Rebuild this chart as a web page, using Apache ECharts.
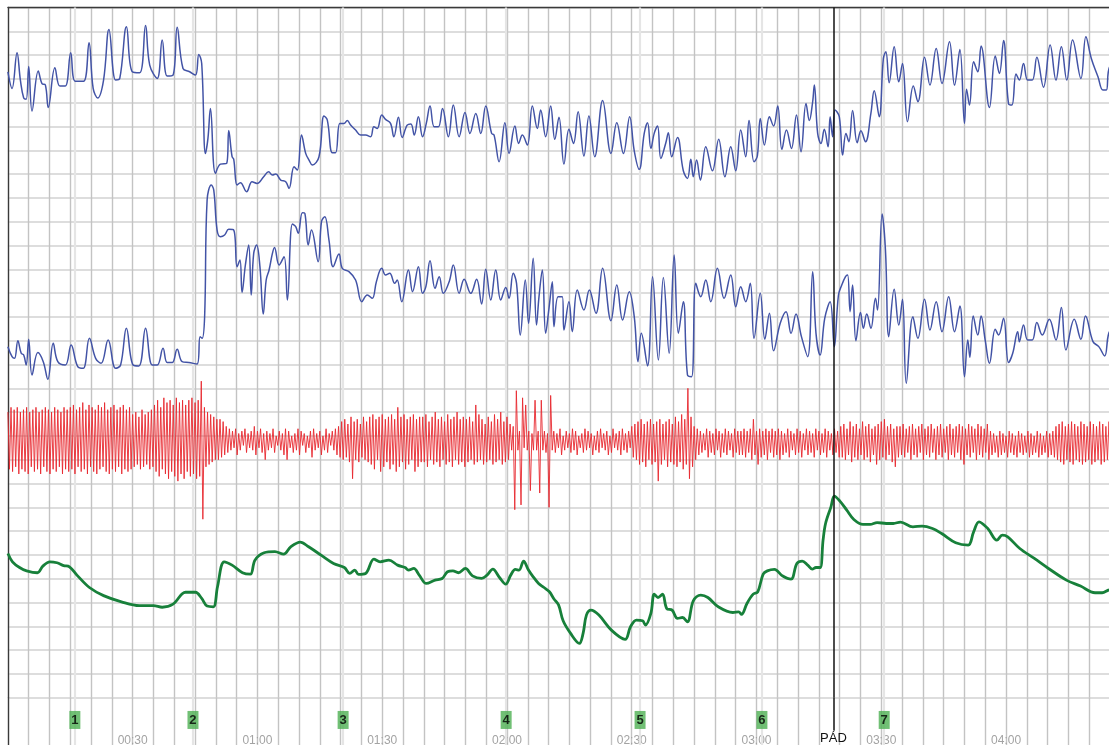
<!DOCTYPE html>
<html><head><meta charset="utf-8">
<script src="https://cdn.jsdelivr.net/npm/echarts@6/dist/echarts.min.js"></script>
<style>html,body{margin:0;padding:0;background:#fff;overflow:hidden}#chart{width:1109px;height:745px}</style>
</head><body><div id="chart"></div><script>
// ---- data (time in seconds, channel values in chart-division units *10) ----
const timeLabels = ['00:30','01:00','01:30','02:00','02:30','03:00','03:30','04:00','04:30'];
const markerTimes = [16.1, 44.5, 80.6, 119.8, 152, 181.3, 210.7];
const markerLabels = ['1','2','3','4','5','6','7'];
const padTime = 198.5;
const padLabel = 'PÁD';

const upperBreath = [[0,27],[1,34],[2.2,19],[3,30.5],[3.8,38],[4.4,38.5],[5,24.8],[5.8,43.5],[7.3,26.7],[8.2,32],[9,32.5],[9.7,42],[11.3,25.3],[12.5,33],[13.8,33],[15.1,19],[16.2,31],[18.2,31],[19.5,14.8],[20.5,34],[21.6,38],[23,30.5],[24.3,9.2],[25.9,30.5],[26.9,29.8],[28.5,8.1],[29.9,27],[31.7,27.4],[33.1,7.6],[34.1,24.2],[35.9,29.8],[37.1,13.7],[38.3,28.8],[39.7,28.4],[40.7,8.3],[42.1,25.6],[43.7,27],[45.1,28.4],[45.9,19.7],[46.6,23.5],[47.5,61.3],[48.1,55],[48.7,42.4],[49.9,69.7],[51.1,65.8],[52.6,65.5],[53.1,51.7],[53.9,62.7],[54.3,63.8],[55.1,74.6],[55.9,73.6],[57.4,77.4],[58.7,73.2],[59.9,73.9],[61.5,71.1],[62.7,69],[63.6,70.4],[64.4,70],[65.6,72.5],[66.8,73.2],[67.6,76],[68.8,66.9],[69.6,68.3],[70.6,53.6],[71.6,61.3],[72.4,64.1],[73.2,66.2],[74.8,62.7],[76,45.6],[76.8,47.3],[78,61],[78.8,61],[79.8,48.7],[80.8,48.7],[81.6,47.5],[82.4,49.4],[83.6,51.5],[84.8,53.6],[86,53.6],[87.2,54.3],[88,50.1],[88.8,50.8],[89.9,45.2],[90.8,47],[92,48.7],[92.8,54.3],[93.9,46.1],[94.8,54.6],[96,49.4],[96.9,48.9],[97.7,53.6],[98.7,45.9],[99.7,54.3],[100.6,48.7],[101.5,41.4],[102.5,50.1],[103.5,50.1],[104.5,42.4],[105.9,54.3],[107.1,41],[108.5,54.3],[109.9,44.1],[111.1,52.9],[112.5,44.5],[113.7,52.9],[114.9,41.4],[116.3,52.9],[116.9,53.6],[118.1,64.8],[119.5,48.4],[120.5,61.3],[121.9,49.8],[122.8,57.1],[123.7,53.6],[124.9,57.8],[126.1,41.4],[127.3,50.8],[128.1,43.1],[129.3,54.3],[130.5,41.4],[131.5,55.4],[132.5,46.1],[133.7,65.8],[134.9,51.2],[136,57.1],[137.1,43.8],[138.5,62.4],[139.7,45.6],[141.1,62.7],[143,39.1],[145,61.3],[146.4,48.4],[148,61.3],[149.5,45.9],[150.6,60.2],[151.8,68],[153,52.9],[153.8,48.4],[154.6,59.2],[155.4,52.9],[156.2,49.8],[157,63.4],[158.2,56.8],[158.8,52.6],[159.6,62.7],[161,54.6],[162.4,68.6],[163.4,71.8],[164.2,63.8],[164.8,71.1],[165.6,64.1],[166.5,72.5],[167.8,58.5],[169.4,68.6],[170.9,55.4],[172.4,71.1],[173.8,58.5],[175,68.6],[176.2,51.5],[177.4,62.7],[178.2,47.5],[179.4,64.8],[180.2,62.4],[180.9,46.6],[181.9,57.8],[183.1,45.9],[184.1,49.8],[185.1,41.4],[186.1,59.6],[187.2,51.5],[188.4,59.2],[189.6,45.2],[190.7,60.6],[191.9,40.3],[192.7,47.5],[193.5,39.6],[193.9,32.6],[194.7,52.9],[195.5,57.1],[196.3,51.2],[197.2,58.5],[197.7,45.9],[198.3,54.3],[198.9,43.1],[199.9,45.9],[200.7,62],[201.5,52.9],[202.2,56.4],[203.1,43.3],[204.2,56.8],[205.1,51.8],[206.2,56.4],[207.5,44.5],[208.3,35],[209.5,45.9],[210.5,21.4],[211.1,18.6],[211.9,31.6],[213.1,16.5],[214.2,31.2],[215.1,23.5],[216.3,48],[217.7,33],[218.8,39.6],[220.4,20.9],[221.7,32.6],[223.2,17.2],[224.6,31.9],[226.4,14.4],[227.6,32.6],[228.9,17.6],[230,48.7],[230.5,34.4],[231.2,41],[232.2,22.8],[233.2,27],[234,16.2],[236,42],[237.4,20.4],[238.4,27.7],[239.4,13.9],[240.6,40.5],[241.4,41],[242.4,27.9],[243.2,30.5],[244.2,23.5],[245.2,30.5],[246.3,30.5],[247.4,20.9],[249,33.5],[250.6,15.8],[252,30.5],[253.3,16.5],[254.6,30.5],[256,13.7],[258,29.8],[259.2,12.3],[260.5,21.4],[262.1,29.1],[263.3,34.7],[264.1,34.7],[264.7,26],[266,22]];

const lowerBreath = [[0,142.5],[1,146.7],[1.6,147.4],[2.4,140],[3.2,145.3],[3.8,146],[4.4,150.2],[5,139.4],[5.8,154.4],[7.2,145],[8.5,148.8],[9.6,156.2],[10.9,141.1],[12,148.8],[13.8,150.2],[15.2,141.8],[16.8,150.9],[18.1,151.6],[19.6,139],[21.1,147.4],[22.4,149.5],[24.1,139.7],[25.9,151.6],[27.1,150.2],[28.5,134.8],[30.1,150.2],[31.5,150.6],[33.1,134.8],[34.7,150.2],[35.9,150.2],[37.3,143.2],[38.3,149.2],[39.5,149.2],[40.7,143.6],[41.9,148.8],[43.5,149.2],[45.5,149.8],[46.2,138.3],[46.7,139],[47.3,129.9],[47.9,80.9],[48.9,74.6],[49.5,76.7],[50.3,93.5],[51.1,96.3],[52.1,95.6],[53.1,93.2],[54.3,93.5],[55.1,108.9],[55.8,106.1],[56.3,119.8],[57.1,108.2],[57.9,99.8],[58.5,120.8],[59.1,103.3],[59.8,99.8],[60.6,108.9],[61.4,128.8],[62.1,114.5],[62.8,110.3],[63.6,103.3],[64.1,100.8],[65.2,108.2],[66.4,104.7],[67.2,122.9],[68.4,91],[69.2,92.1],[69.8,94.9],[70.8,86.2],[71.4,86.5],[72.2,99.8],[73,93.5],[74.6,106.8],[75.4,90],[76.2,87.9],[77.2,97.7],[78.2,108.9],[79.6,103.6],[80.4,109.6],[82,111],[83.6,114.5],[85.1,123.6],[86.4,120.8],[87.6,122.2],[88.6,115.2],[89.9,109.6],[90.8,112.4],[91.8,111.7],[93,115.9],[93.6,114.5],[94.7,123.6],[96.3,110.3],[97.3,119.4],[98.7,108.9],[99.7,120.1],[100.5,117.3],[101.5,106.4],[102.7,118],[103.7,113.1],[104.7,120.1],[106.1,115.2],[107.1,108.2],[108.5,120.1],[109.7,114.2],[111.3,120.1],[112.7,114.2],[113.9,124.6],[114.9,110],[116.1,122.9],[117.3,110.3],[118.5,122.9],[119.7,117.6],[120.5,122.2],[121.5,111.7],[122.3,115.9],[123.2,137.6],[124.4,114.5],[125.2,132.7],[126.3,105.4],[127.1,133.4],[127.7,121.5],[128.5,110.3],[129.3,136.9],[130.1,126.4],[130.9,115.2],[131.3,134.1],[132.3,121.5],[133.3,121.5],[133.7,135.5],[134.9,123.6],[135.7,136.2],[136.9,118.7],[138.5,127.1],[139.8,118.7],[141.4,128.5],[143,109.6],[145,131.6],[146.4,116.6],[147.8,131.3],[149.4,119.4],[150.6,129.9],[151.5,148.8],[152.3,136.9],[153.8,150.6],[155,113.1],[156.4,148.1],[157.6,113.4],[159,145.3],[160.2,104],[161.2,136.9],[162.4,123.6],[163.4,154.4],[164.4,155.1],[165.4,115.9],[166.6,121.5],[167.8,114.5],[169,123.6],[170.6,109.6],[172.2,122.2],[173.8,112.4],[175,125.7],[176.2,117.3],[177.4,123.6],[178.5,115.9],[179.4,139],[180.9,120.1],[182,139.4],[183.1,128.5],[184.1,144.2],[185.7,132.7],[187.1,127.8],[188.3,136.9],[189.5,128.8],[190.8,138.3],[192.3,146.7],[193.5,111],[194.3,136.9],[195.3,146],[196.4,130.6],[197.7,123.6],[198.7,142.5],[199.7,120.8],[200.5,116.6],[201.4,113.1],[201.9,112.4],[202.5,127.8],[203.1,116.6],[203.9,140],[205,128.2],[205.7,134.8],[206.5,128.8],[207.5,134.8],[208.6,122.2],[209.1,127.1],[210.2,86.8],[211,101.9],[211.8,138.3],[213.1,118.4],[214.2,133.4],[215.1,122.6],[216,157.9],[217.6,129.9],[218.8,139],[220.4,122.6],[221.7,135.5],[223.2,123.6],[224.6,136.2],[226.2,121.5],[227.6,136.2],[228.9,125.4],[230,155.1],[230.8,139.7],[231.3,147],[232.1,129.6],[233.2,137.6],[234,129.6],[235,140],[236,149.5],[237.4,135.2],[238.2,137.6],[239.4,130.6],[240.6,149.2],[241.6,145.3],[242.8,136.2],[243.2,140.4],[244.2,133.4],[245.2,139.7],[246.3,139.7],[247.4,132.4],[248.7,137.6],[250.4,131],[252,139.7],[253.3,126],[254.4,143.9],[256.4,131],[258,139.4],[259.1,129.6],[260.9,140.4],[262.3,142.5],[263.7,146.4],[264.7,136.9],[266,134]];

const redStep = 0.375;
const redValues = [
170,194,168,195,169,193,168,196,170,194,169,195,168,196,170,193,169,195,168,194,170,196,169,193,168,195,169,196,170,194,168,195,169,193,170,196,168,194,169,195,
168,194,167,196,169,193,168,195,166,194,169,196,167,193,168,195,169,196,167,194,168,193,166,195,169,196,168,194,167,195,169,193,168,196,167,194,169,195,168,194,
171,193,170,192,172,194,169,193,171,192,170,194,169,193,
167,195,165,197,168,194,164,196,166,198,165,195,167,197,164,199,166,196,165,198,167,195,165,197,164,196,166,198,165,197,
157,215,168,193,
170,192,171,191,172,190,173,190,173,189,174,188,
176,187,177,186,178,185,177,188,179,186,178,184,177,187,179,185,178,186,176,188,178,185,177,187,179,190,
178,186,179,185,177,187,180,184,178,186,179,188,177,190,178,185,180,187,179,186,177,188,178,184,179,187,180,185,178,189,177,186,179,185,178,188,180,186,177,187,179,184,178,186,177,188,176,189,
174,190,173,189,175,191,172,198,174,190,173,191,175,189,172,190,174,191,
172,192,171,194,173,190,172,195,171,193,173,191,172,194,171,192,173,195,168,193,172,191,171,194,173,192,172,190,171,195,173,193,172,191,
172,191,171,193,174,190,172,192,170,191,173,193,172,190,174,192,171,191,173,193,172,190,170,192,173,191,172,193,
173,191,172,190,174,192,167,191,171,190,173,192,175,191,172,190,174,192,171,191,173,190,170,192,174,191,172,190,
175,186,176,211,161,186,178,209,164,185,167,186,178,203,179,186,165,186,178,204,165,186,178,187,179,210,
163,186,178,187,179,185,177,188,180,186,178,185,179,187,177,186,178,188,180,185,179,187,177,186,178,185,179,188,180,186,178,187,177,185,179,186,178,188,180,187,177,185,179,186,178,188,177,186,179,187,178,185,
176,189,175,190,174,192,173,191,175,193,174,190,173,192,175,191,174,199,173,192,175,190,174,193,173,191,175,192,
172,193,174,191,171,194,173,192,160,198,172,193,
176,190,177,188,178,187,179,186,177,189,178,187,179,188,177,186,178,189,179,187,177,188,178,186,179,189,177,187,178,188,
178,188,177,189,178,187,177,190,173,188,178,192,177,189,178,188,177,190,178,187,177,189,178,188,177,190,
178,188,179,187,177,189,178,186,179,188,177,187,178,189,179,186,177,188,178,187,179,189,177,186,178,188,179,187,177,189,178,186,179,188,177,187,178,189,
176,189,175,190,177,188,174,191,176,189,175,190,177,188,174,190,176,189,175,191,177,188,176,192,175,190,174,189,173,190,176,188,175,191,177,193,176,189,
176,188,175,189,177,187,176,190,175,188,177,189,176,187,175,190,177,188,176,189,175,187,177,190,176,188,175,189,177,187,176,190,175,188,177,189,176,187,175,190,176,192,177,188,175,189,176,187,177,190,175,188,176,189,177,187,175,190,
178,188,179,187,180,189,178,188,179,187,180,189,178,187,179,188,180,189,178,187,179,188,180,187,178,189,179,188,180,187,178,189,179,188,180,187,178,189,179,188,178,189,
176,190,175,191,174,192,176,190,175,191,174,192,175,190,176,191,174,192,175,191,176,190,174,192,175,191,176,190,174,192,175,191,176,190,174,192,175,191,176,190
];

const greenEda = [[0,229.4],[1.1,232.9],[2.8,235.3],[4.5,236.7],[7.1,237.5],[8.4,234.7],[10.1,232.9],[11.8,233.3],[13.4,234.5],[14.8,235],[16.6,238.5],[19.6,243.7],[23,247.1],[27.3,249.7],[31.6,251.3],[35,251.3],[37.1,252],[39.7,250.7],[42.7,245.7],[45.1,245.7],[46.6,248.3],[47.9,251.5],[49.4,251.8],[50.4,243.4],[52,232.9],[53.9,234.3],[56.4,237.5],[58.3,238.1],[59.4,232.2],[61.6,229.1],[64.2,228.6],[66.3,229.7],[68,226.6],[70.3,224.6],[72.3,226.6],[75.3,230.1],[78.3,233.6],[80.9,235.3],[82.2,237.8],[83.4,236.4],[84.3,238.2],[86,237.8],[88,231.8],[89.5,232.9],[91.6,232.2],[93.7,234.3],[95.5,235.3],[96.3,236.4],[97.6,235.7],[98.9,238.5],[100.6,242],[102.7,240.6],[104.4,239.9],[105.7,237.1],[107,236.7],[108.3,237.5],[110,235.7],[111.7,238.8],[113.9,239.9],[115.2,238.5],[116.6,236],[118.2,239.5],[119.7,242.3],[120.9,238.5],[122,236.1],[122.9,236.4],[124,232.6],[125.1,236.1],[126.3,239.2],[127.6,242],[128.9,243.7],[130.2,245.5],[131.3,248.5],[132.4,251],[133.5,257.7],[135.3,263],[137.4,267.2],[138.3,263],[139.1,255.3],[140.2,253.2],[142.1,255.3],[145.1,261.6],[148.4,265.5],[149.7,260.2],[151.1,257.4],[152.6,257.7],[153.3,259.5],[154.6,254.6],[155.4,246.5],[156.3,247.9],[157.4,246.5],[158.4,252.5],[159.7,253.2],[161,256.7],[162.2,256.3],[163.4,258.1],[164.8,249.3],[166.6,246.9],[168.3,247.9],[170.8,251.8],[174.3,254.2],[175.7,253.9],[176.4,255],[177.7,250.4],[179.2,246.5],[180.3,245.5],[181.6,238.1],[182.6,236.7],[184.3,236.1],[186.3,238.9],[188.3,240.2],[189.7,233.6],[191,232.6],[192.3,234.3],[193.4,236],[194.3,235.3],[195.3,235.3],[196,223.8],[196.6,216.8],[197.9,209.8],[198.7,205.3],[200,207.3],[201.7,211.2],[203.4,215.1],[205.6,217.2],[207.3,217.2],[209,216.4],[211.2,216.8],[212.9,216.8],[214.6,216.2],[217.6,218.2],[219.8,217.9],[222.3,218.9],[224.5,221],[227.9,224.9],[230.9,225.9],[232.2,220.3],[233.5,216.1],[235.6,218.9],[237.8,223.8],[239.1,221.7],[240.4,222.4],[243.3,227.3],[246.8,231.5],[250.2,235.7],[254.5,240.6],[257.9,243.1],[261.4,245.9],[263.1,245.9],[264.6,244.8],[266,244]];

// ---- chart ----
const X_MAX = 270;
const PX_PER_S = 4.159;
const GRID_LEFT = 7.9;
const GRID_W = X_MAX * PX_PER_S;
const redData = redValues.map((v, i) => [i * redStep, v]);
const FONT = 'Liberation Sans, Arial, sans-serif';

const vSplit = { show: true, lineStyle: { color: '#c3c3c3', width: 1.4 } };
const chart = echarts.init(document.getElementById('chart'), null, { renderer: 'canvas' });
chart.setOption({
  animation: false,
  backgroundColor: '#ffffff',
  grid: [
    { left: GRID_LEFT, top: 7.5, width: GRID_W, height: 690.2, outerBoundsMode: 'none', containLabel: false },
    { left: GRID_LEFT, top: 697.7, width: GRID_W, height: 50, outerBoundsMode: 'none', containLabel: false }
  ],
  xAxis: [
    { type: 'value', gridIndex: 0, min: 0, max: X_MAX, interval: 5, position: 'top',
      axisLine: { show: true, onZero: false, lineStyle: { color: '#3a3a3a', width: 1.3 } },
      axisTick: { show: false }, axisLabel: { show: false }, splitLine: vSplit },
    { type: 'value', gridIndex: 1, min: 0, max: X_MAX, interval: 5, position: 'bottom',
      axisLine: { show: false }, axisTick: { show: false }, splitLine: vSplit,
      axisLabel: { show: true, inside: true, margin: 1, color: '#a3a3a3', fontSize: 12,
        fontFamily: FONT, showMinLabel: false, showMaxLabel: false, hideOverlap: false,
        formatter: v => (v > 0 && v % 30 === 0 && timeLabels[v / 30 - 1]) ? timeLabels[v / 30 - 1] : '' } }
  ],
  yAxis: [
    { type: 'value', gridIndex: 0, min: 0, max: 290, interval: 10, inverse: true,
      axisLine: { show: true, onZero: false, lineStyle: { color: '#3a3a3a', width: 1.3 } },
      axisTick: { show: false }, axisLabel: { show: false },
      splitLine: { show: true, lineStyle: { color: '#d2d2d2', width: 1.6 } } },
    { type: 'value', gridIndex: 1, min: 0, max: 1,
      axisLine: { show: true, onZero: false, lineStyle: { color: '#3a3a3a', width: 1.3 } },
      axisTick: { show: false }, axisLabel: { show: false }, splitLine: { show: false } }
  ],
  series: [
    { type: 'line', xAxisIndex: 0, yAxisIndex: 0, data: markerTimes.map(t => [t, 0]), z: 1, silent: true,
      showSymbol: false, symbol: 'none', lineStyle: { opacity: 0 },
      markLine: { silent: true, symbol: 'none', animation: false, z: 1, label: { show: false },
        lineStyle: { color: '#e5e5e5', width: 2.2, type: 'solid' },
        data: markerTimes.map(t => ({ xAxis: t })) } },
    { type: 'line', name: 'upper', xAxisIndex: 0, yAxisIndex: 0, data: upperBreath, showSymbol: false,
      smooth: 0.4, z: 3, lineStyle: { color: '#4253a6', width: 1.5 } },
    { type: 'line', name: 'lower', xAxisIndex: 0, yAxisIndex: 0, data: lowerBreath, showSymbol: false,
      smooth: 0.4, z: 3, lineStyle: { color: '#4253a6', width: 1.5 } },
    { type: 'line', name: 'cardio', xAxisIndex: 0, yAxisIndex: 0, data: redData, showSymbol: false,
      z: 2, lineStyle: { color: '#e8282f', width: 0.9 } },
    { type: 'line', name: 'eda', xAxisIndex: 0, yAxisIndex: 0, data: greenEda, showSymbol: false,
      smooth: 0.35, z: 3, lineStyle: { color: '#17803a', width: 2.8 } },
    { type: 'line', xAxisIndex: 0, yAxisIndex: 0, data: [[padTime, 0]], z: 6, silent: true,
      showSymbol: false, symbol: 'none', lineStyle: { opacity: 0 },
      markLine: { silent: true, symbol: 'none', animation: false, z: 6, label: { show: false },
        lineStyle: { color: '#111111', width: 1.5, type: 'solid' },
        data: [{ xAxis: padTime }] } },
    { type: 'line', xAxisIndex: 1, yAxisIndex: 1, data: markerTimes.map(t => [t, -1]), z: 1, silent: true,
      showSymbol: false, symbol: 'none', lineStyle: { opacity: 0 },
      markLine: { silent: true, symbol: 'none', animation: false, z: 1,
        data: [
          ...markerTimes.map(t => ({ xAxis: t, label: { show: false }, lineStyle: { color: '#e5e5e5', width: 2.2, type: 'solid' } })),
          [
            { coord: [padTime, 1], lineStyle: { color: '#111111', width: 1.5, type: 'solid' },
              label: { show: true, position: 'end', distance: 2, formatter: padLabel, color: '#111', fontSize: 13, fontFamily: FONT } },
            { coord: [padTime, 0.35], lineStyle: { color: '#111111', width: 1.5, type: 'solid' },
              label: { show: true, position: 'end', distance: 2, formatter: padLabel, color: '#111', fontSize: 13, fontFamily: FONT } }
          ]
        ] } },
    { type: 'scatter', xAxisIndex: 1, yAxisIndex: 1, z: 5, silent: true,
      data: markerTimes.map((t, i) => ({ value: [t, 0.555], name: markerLabels[i] })),
      symbol: 'rect', symbolSize: [11, 18], itemStyle: { color: '#4db053' },
      label: { show: true, position: 'inside', formatter: p => p.name, color: '#000', fontWeight: 'bold',
        fontSize: 13, fontFamily: FONT } }
  ]
});
</script></body></html>
